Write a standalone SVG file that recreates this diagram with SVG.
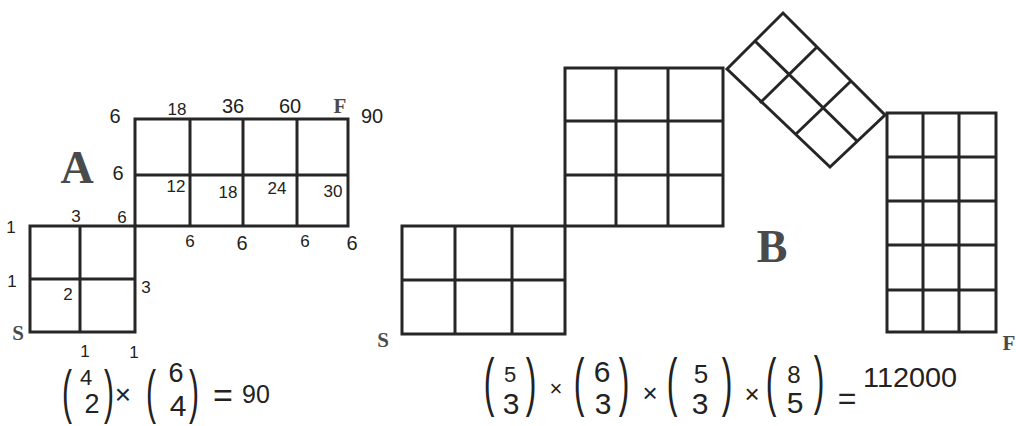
<svg xmlns="http://www.w3.org/2000/svg" width="1016" height="426" viewBox="0 0 1016 426">
<style>
.g{fill:none;stroke:#262626;stroke-width:3;stroke-linecap:square}
.h{font-family:"Liberation Sans",Arial,sans-serif;fill:#222;text-anchor:middle}
.s{font-size:17px}
.m{font-size:20px}
.big{font-family:"Liberation Serif","Times New Roman",serif;font-weight:bold;fill:#4a4a4a;text-anchor:middle}
.p{font-family:"Liberation Sans",Arial,sans-serif;fill:#222;text-anchor:middle}
</style>
<rect width="1016" height="426" fill="#fff"/>
<g id="gridA">
  <path class="g" d="M30 226H135V332H30Z M80 226V332 M30 279H135"/>
  <path class="g" d="M135 119H348V226H135Z M135 175H348 M190 119V226 M243 119V226 M297 119V226"/>
</g>
<g id="labelsA">
  <text class="big" x="77" y="183" font-size="46">A</text>
  <text class="big" x="18" y="340" font-size="21">S</text>
  <text class="big" x="340" y="113" font-size="21">F</text>
  <text class="h m" x="115" y="123">6</text>
  <text class="h s" x="177" y="115">18</text>
  <text class="h m" x="233" y="113">36</text>
  <text class="h m" x="290" y="113">60</text>
  <text class="h m" x="372" y="123">90</text>
  <text class="h m" x="118" y="180">6</text>
  <text class="h s" x="176" y="192">12</text>
  <text class="h s" x="228" y="198">18</text>
  <text class="h s" x="277" y="194">24</text>
  <text class="h s" x="333" y="197">30</text>
  <text class="h s" x="11" y="233">1</text>
  <text class="h s" x="76" y="222">3</text>
  <text class="h s" x="122" y="223">6</text>
  <text class="h s" x="190" y="247">6</text>
  <text class="h m" x="242" y="250">6</text>
  <text class="h s" x="305" y="247">6</text>
  <text class="h m" x="352" y="250">6</text>
  <text class="h s" x="12" y="287">1</text>
  <text class="h s" x="68" y="300">2</text>
  <text class="h s" x="146" y="293">3</text>
  <text class="h s" x="85" y="357">1</text>
  <text class="h s" x="134" y="358">1</text>
</g>
<g id="formulaA">
  <text class="p" transform="translate(67 412) scale(0.5 1)" font-size="60">(</text>
  <text class="h" x="86" y="385" font-size="22">4</text>
  <text class="h" x="92" y="413" font-size="27">2</text>
  <text class="p" transform="translate(109 412) scale(0.5 1)" font-size="60">)</text>
  <text class="h" x="123" y="404" font-size="28">×</text>
  <text class="p" transform="translate(151 412) scale(0.5 1)" font-size="60">(</text>
  <text class="h" x="176" y="382" font-size="27">6</text>
  <text class="h" x="178" y="416" font-size="30">4</text>
  <text class="p" transform="translate(194 412) scale(0.5 1)" font-size="60">)</text>
  <text class="h" x="223" y="407" font-size="34">=</text>
  <text class="h" x="256" y="403" font-size="25">90</text>
</g>
<g id="gridB1">
  <path class="g" d="M402 226H565V334H402Z M455 226V334 M512 226V334 M402 280H565"/>
</g>
<g id="gridB2">
  <path class="g" d="M565 68H723V226H565Z M616 68V226 M668 68V226 M565 121H723 M565 175H723"/>
</g>
<g id="gridB3">
  <path class="g" d="M727 69L783 13L885 115L830 167Z M755 41L857 141 M761 102L817 47 M796 134L851 81"/>
</g>
<g id="gridB4">
  <path class="g" d="M887 113H996V332H887Z M923 113V332 M959 113V332 M887 157H996 M887 201H996 M887 245H996 M887 290H996"/>
</g>
<g id="labelsB">
  <text class="big" x="772" y="262" font-size="46">B</text>
  <text class="big" x="383" y="347" font-size="21">S</text>
  <text class="big" x="1009" y="350" font-size="21">F</text>
</g>
<g id="formulaB">
  <text class="p" transform="translate(489 404) scale(0.5 1)" font-size="64">(</text>
  <text class="h" x="510" y="382" font-size="22">5</text>
  <text class="h" x="511" y="414" font-size="30">3</text>
  <text class="p" transform="translate(531 404) scale(0.5 1)" font-size="64">)</text>
  <text class="h" x="556" y="396" font-size="22">×</text>
  <text class="p" transform="translate(579 404) scale(0.5 1)" font-size="64">(</text>
  <text class="h" x="602" y="382" font-size="30">6</text>
  <text class="h" x="603" y="414" font-size="30">3</text>
  <text class="p" transform="translate(624 404) scale(0.5 1)" font-size="64">)</text>
  <text class="h" x="650" y="402" font-size="26">×</text>
  <text class="p" transform="translate(672 404) scale(0.5 1)" font-size="64">(</text>
  <text class="h" x="701" y="383" font-size="26">5</text>
  <text class="h" x="700" y="414" font-size="30">3</text>
  <text class="p" transform="translate(727 404) scale(0.5 1)" font-size="64">)</text>
  <text class="h" x="752" y="403" font-size="26">×</text>
  <text class="p" transform="translate(771 404) scale(0.5 1)" font-size="64">(</text>
  <text class="h" x="794" y="383" font-size="24">8</text>
  <text class="h" x="795" y="413" font-size="30">5</text>
  <text class="p" transform="translate(819 402) scale(0.5 1)" font-size="64">)</text>
  <text class="h" x="847" y="409" font-size="32">=</text>
  <text class="h" x="910" y="387" font-size="27" textLength="94" lengthAdjust="spacingAndGlyphs">112000</text>
</g>
</svg>
